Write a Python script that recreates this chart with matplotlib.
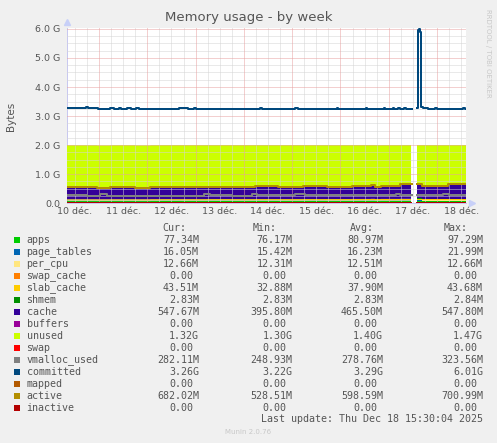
import numpy as np
import matplotlib
matplotlib.use('Agg')
import matplotlib.pyplot as plt
from matplotlib.patches import Rectangle

W, H = 497, 443

# time axis in days since 10 déc. 00:00 (week view, 30 min per pixel)
t_start, t_end = 0.337, 8.6
gap_start, gap_end = 7.47, 7.57
day_labels = ['10 déc.', '11 déc.', '12 déc.', '13 déc.', '14 déc.',
              '15 déc.', '16 déc.', '17 déc.', '18 déc.']

# stacked areas, breakpoints in days, values in MiB
stack_t = [0.337, 0.95, 1.23, 1.75, 2.06, 2.26, 2.71, 3.23, 3.75, 4.23, 4.71,
           5.23, 5.71, 6.23, 6.61, 6.71, 6.82, 7.23, 7.57, 7.68, 8.23]
apps = [79, 78, 79, 78, 80, 81, 80, 82, 80, 81, 80,
        81, 80, 82, 84, 80, 81, 83, 90, 78, 77.3]
page_tables = [16.1, 16.0, 16.2, 16.0, 16.3, 16.4, 16.2, 16.3, 16.1, 16.5, 16.2,
               16.4, 16.2, 16.3, 16.8, 16.2, 16.3, 16.5, 22.0, 16.1, 16.05]
per_cpu = [12.3, 12.3, 12.4, 12.4, 12.4, 12.5, 12.5, 12.5, 12.5, 12.5, 12.5,
           12.5, 12.5, 12.6, 12.6, 12.6, 12.6, 12.6, 12.6, 12.6, 12.66]
swap_cache = [0] * 21
slab_cache = [33, 33, 34, 34, 35, 35, 36, 36, 37, 37, 38,
              38, 39, 39, 40, 40, 41, 42, 43, 43, 43.5]
shmem = [2.83] * 21
cache = [427, 396, 427, 396, 427, 456, 427, 456, 427, 477, 452,
         477, 452, 477, 512, 452, 477, 537, 537, 477, 548]
buffers = [0] * 21
unused = [1479, 1505, 1479, 1505, 1478, 1449, 1478, 1448, 1477, 1426, 1451,
          1425, 1450, 1424, 1386, 1448, 1422, 1360, 1352, 1418, 1352]
swap = [0] * 21

# lines
active = [561, 530, 561, 530, 561, 590, 561, 590, 561, 611, 586,
          611, 586, 611, 646, 586, 611, 671, 671, 611, 682]
vmalloc_t = [0.337, 0.75, 1.02, 1.17, 3.03, 3.15, 3.28, 3.75, 3.9, 4.17, 4.27,
             5.06, 5.27, 6.14, 6.2, 7.13, 7.23, 8.11, 8.25]
vmalloc_used = [275, 258, 320, 272, 255, 318, 275, 258, 272, 315, 276,
                322, 280, 300, 280, 310, 285, 324, 282]
committed_t = [0.337, 0.72, 0.76, 0.98, 1.23, 1.30, 1.40, 1.46, 1.58, 1.66, 1.76,
               1.82, 2.64, 2.82, 2.95, 3.0, 4.33, 4.37, 5.06, 5.12, 5.91, 5.94,
               6.51, 6.54, 6.88, 6.91, 7.07, 7.10, 7.19, 7.22, 7.31, 7.34,
               7.57, 7.59, 7.605, 7.625, 7.645, 7.665, 7.71, 7.81, 7.96, 7.99,
               8.54, 8.57]
committed = [3.29, 3.32, 3.29, 3.26, 3.29, 3.26, 3.29, 3.26, 3.29, 3.26, 3.29,
             3.26, 3.29, 3.26, 3.29, 3.26, 3.29, 3.26, 3.29, 3.26, 3.29, 3.26,
             3.29, 3.26, 3.29, 3.26, 3.29, 3.26, 3.29, 3.26, 3.29, 3.26,
             3.27, 5.0, 5.95, 6.01, 5.9, 3.3, 3.29, 3.26, 3.29, 3.26,
             3.29, 3.26]
mapped = [0.0]
inactive = [0.0]

# legend table
names = ['apps', 'page_tables', 'per_cpu', 'swap_cache', 'slab_cache', 'shmem',
         'cache', 'buffers', 'unused', 'swap', 'vmalloc_used', 'committed',
         'mapped', 'active', 'inactive']
colors = ['#00CC00', '#0066B3', '#FFE680', '#FF8000', '#FFCC00', '#008F00',
          '#330099', '#990099', '#CCFF00', '#FF0000', '#808080', '#00487D',
          '#B35A00', '#B38F00', '#B30000']
cur = ['77.34M', '16.05M', '12.66M', '0.00 ', '43.51M', '2.83M', '547.67M', '0.00 ',
       '1.32G', '0.00 ', '282.11M', '3.26G', '0.00 ', '682.02M', '0.00 ']
mins = ['76.17M', '15.42M', '12.31M', '0.00 ', '32.88M', '2.83M', '395.80M', '0.00 ',
        '1.30G', '0.00 ', '248.93M', '3.22G', '0.00 ', '528.51M', '0.00 ']
avgs = ['80.97M', '16.23M', '12.51M', '0.00 ', '37.90M', '2.83M', '465.50M', '0.00 ',
        '1.40G', '0.00 ', '278.76M', '3.29G', '0.00 ', '598.59M', '0.00 ']
maxs = ['97.29M', '21.99M', '12.66M', '0.00 ', '43.68M', '2.84M', '547.80M', '0.00 ',
        '1.47G', '0.00 ', '323.56M', '6.01G', '0.00 ', '700.99M', '0.00 ']

txt = '#555555'
fig = plt.figure(figsize=(W / 100, H / 100), dpi=100, facecolor='#F0F0F0')
ax = fig.add_axes([67 / W, 1 - 203.3 / H, 399 / W, 175.3 / H])
ax.set_facecolor('white')

tt = np.arange(t_start, t_end + 1 / 48, 1 / 48)
gap = (tt >= gap_start) & (tt < gap_end)


def steps(bt, bv):
    idx = np.searchsorted(bt, tt, side='right') - 1
    v = np.asarray(bv, float)[np.clip(idx, 0, None)]
    v[gap] = np.nan
    return v


stack = [apps, page_tables, per_cpu, swap_cache, slab_cache, shmem, cache,
         buffers, unused, swap]
base = np.zeros_like(tt)
for vals, c in zip(stack, colors[:10]):
    v = steps(stack_t, vals) / 1024
    ax.fill_between(tt, base, base + v, step='post', color=c, lw=0, zorder=1)
    base = base + v

# grid on top of the areas, like rrdtool
for d in np.arange(0, 9.01, 0.25):
    if d % 1 == 0:
        continue
    ax.axvline(d, color='#d4d4d4', lw=0.72, ls=(0, (1, 1)), zorder=2)
for g in np.arange(0, 6.01, 0.25):
    if g % 1 == 0:
        continue
    ax.axhline(g, color='#d4d4d4', lw=0.72, ls=(0, (1, 1)), zorder=2)
for d in range(1, 9):
    ax.axvline(d, color='#e8a0a0', lw=0.72, ls=(0, (1, 1)), zorder=2)
for g in range(1, 7):
    ax.axhline(g, color='#e8a0a0', lw=0.72, ls=(0, (1, 1)), zorder=2)

ax.plot(tt, steps(vmalloc_t, vmalloc_used) / 1024, color=colors[10], lw=1.44,
        drawstyle='steps-post', zorder=3)
ax.plot(tt, steps(committed_t, committed), color=colors[11], lw=1.44,
        drawstyle='steps-post', zorder=3)
ax.plot(tt, steps([t_start], mapped), color=colors[12], lw=1.44, zorder=3)
ax.plot(tt, steps(stack_t, active) / 1024, color=colors[13], lw=1.44,
        drawstyle='steps-post', zorder=3)
ax.plot(tt, steps([t_start], inactive), color=colors[14], lw=1.44, zorder=3)

ax.set_xlim(t_start, t_end)
ax.set_ylim(0, 6.03)
ax.set_xticks(np.arange(0.5, 9, 1))
ax.set_xticklabels(day_labels)
ax.set_yticks(range(7))
ax.set_yticklabels(['0.0'] + ['%d.0 G' % g for g in range(1, 7)])
ax.tick_params(length=0, labelsize=6.8, colors=txt, pad=5)
ax.tick_params(axis='x', pad=3)
for s in ['top', 'right']:
    ax.spines[s].set_visible(False)
for s in ['left', 'bottom']:
    ax.spines[s].set_color('#c8c8f0')
    ax.spines[s].set_linewidth(0.72)
    ax.spines[s].set_zorder(0.5)
ax.plot([0], [1.035], marker='^', ms=5, color='#c8d0f8', transform=ax.transAxes,
        clip_on=False)
ax.plot([1.015], [0], marker='>', ms=5, color='#c8d0f8', transform=ax.transAxes,
        clip_on=False)


def fx(x):
    return x / W


def fy(y):
    return 1 - y / H


fig.text(0.5, fy(18), 'Memory usage - by week', ha='center', va='center',
         fontsize=9.5, color=txt)
fig.text(fx(11), fy(116), 'Bytes', rotation=90, ha='center', va='center',
         fontsize=7.5, color=txt)
fig.text(fx(488), fy(53), 'RRDTOOL / TOBI OETIKER', rotation=270, ha='center',
         va='center', fontsize=5, color='#c8c8c8')

mono = 'DejaVu Sans Mono'
fs = 7.2
cw = 6.0
col_right = [199, 292.5, 383, 483]
head_right = [186.5, 277, 374, 467.5]
for hx, h in zip(head_right, ['Cur:', 'Min:', 'Avg:', 'Max:']):
    fig.text(fx(hx), fy(227.6), h, ha='right', va='center', family=mono,
             fontsize=fs, color=txt)
for i, n in enumerate(names):
    y = 240 + 12 * i
    fig.add_artist(Rectangle((fx(14), fy(y + 3.2)), 6.3 / W, 6.3 / H,
                             transform=fig.transFigure, color=colors[i], lw=0))
    fig.text(fx(26.5), fy(y), n, ha='left', va='center', family=mono,
             fontsize=fs, color=txt)
    for xr, col in zip(col_right, [cur, mins, avgs, maxs]):
        s = col[i]
        x = xr - cw if s.endswith(' ') else xr
        fig.text(fx(x), fy(y), s.strip(), ha='right', va='center', family=mono,
                 fontsize=fs, color=txt)

fig.text(fx(483), fy(419.5), 'Last update: Thu Dec 18 15:30:04 2025', ha='right',
         va='center', family=mono, fontsize=fs, color=txt)
fig.text(fx(248), fy(432), 'Munin 2.0.76', ha='center', va='center',
         fontsize=5, color='#c8c8c8')

fig.savefig('out.png', dpi=100, facecolor=fig.get_facecolor())
